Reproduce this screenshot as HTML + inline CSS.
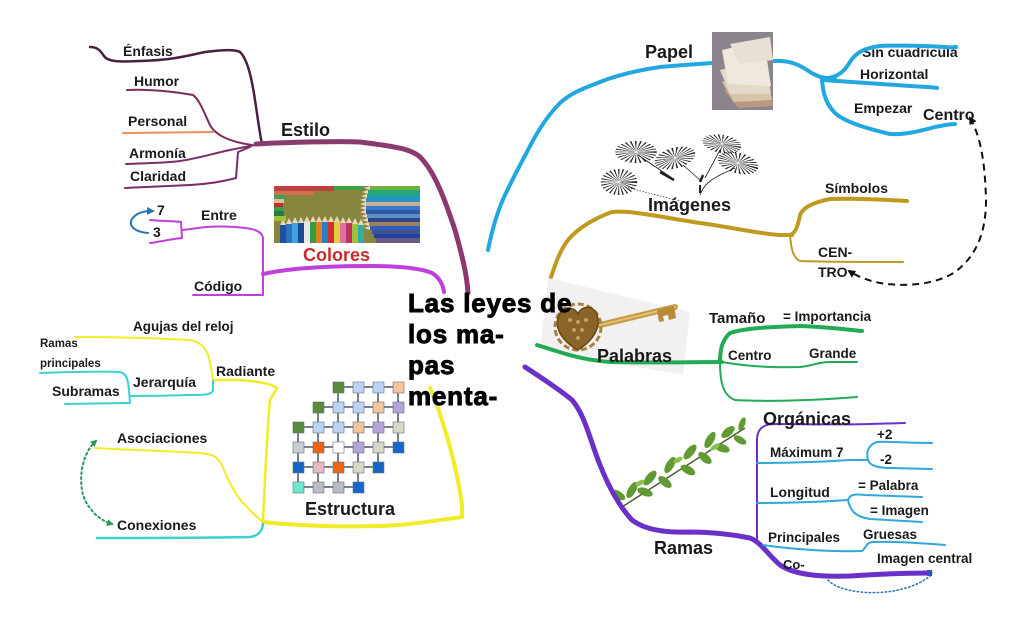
<!DOCTYPE html>
<html><head><meta charset="utf-8"><style>
html,body{margin:0;padding:0;background:#fff;}
svg{display:block;}
text{font-family:"Liberation Sans",Arial,sans-serif;font-weight:bold;fill:#1a1a1a;}
</style></head><body>
<svg width="1024" height="621" viewBox="0 0 1024 621" xmlns="http://www.w3.org/2000/svg">
<defs>
<marker id="ab" markerWidth="8" markerHeight="8" refX="6" refY="4" orient="auto-start-reverse" markerUnits="userSpaceOnUse"><path d="M0,0 L8,4 L0,8 Z" fill="#111"/></marker>
<marker id="ag" markerWidth="7" markerHeight="7" refX="5" refY="3.5" orient="auto-start-reverse" markerUnits="userSpaceOnUse"><path d="M0,0 L7,3.5 L0,7 Z" fill="#2a9a60"/></marker>
<marker id="abl" markerWidth="8" markerHeight="8" refX="5" refY="4" orient="auto" markerUnits="userSpaceOnUse"><path d="M0,0 L8,4 L0,8 Z" fill="#2a78b0"/></marker>
</defs>
<rect width="1024" height="621" fill="#fff"/>

<!-- ===== ESTILO ===== -->
<g fill="none" stroke-linecap="round" stroke-linejoin="round">
<path d="M90,47 C97,47 100,50 104,56 C108,62 120,62 140,61 C175,60 190,55 205,52 C220,50 235,49 240,52 C248,60 252,80 255,100 C258,120 260,135 262,144" stroke="#4a2040" stroke-width="2.5"/>
<path d="M127,90 C150,89 175,92 193,95 C200,100 205,115 210,125 C215,135 230,142 252,145" stroke="#7a2e60" stroke-width="2"/>
<path d="M123,133 L213,132" stroke="#e89060" stroke-width="2"/>
<path d="M126,164 C150,163 165,163 180,161 C200,158 215,153 230,150 C245,147 255,145 262,144" stroke="#7a2e68" stroke-width="2"/>
<path d="M125,188 C150,187 170,186 190,185 C210,184 225,181 236,178 L238,152 L250,147" stroke="#7a2e68" stroke-width="2"/>
<path d="M256,144 C290,142 340,141 360,142 C390,146 410,148 420,157 C435,172 445,200 455,230 C462,255 467,275 468,293" stroke="#8b3a6e" stroke-width="5"/>
</g>
<text x="123" y="56" font-size="14">Énfasis</text>
<text x="134" y="86" font-size="14">Humor</text>
<text x="128" y="126" font-size="14">Personal</text>
<text x="129" y="158" font-size="14">Armonía</text>
<text x="130" y="181" font-size="14">Claridad</text>
<text x="281" y="136" font-size="18">Estilo</text>

<!-- ===== COLORES ===== -->
<g fill="none" stroke-linecap="round" stroke-linejoin="round">
<path d="M263,274 C290,268 330,266 370,266 C400,266 420,268 432,273 C440,278 443,285 444,292" stroke="#c040dc" stroke-width="4"/>
<path d="M193,295 L263,295 L263,238 C262,232 255,229 245,228 C230,226 210,226 198,228 L183,230" stroke="#c040dc" stroke-width="2"/>
<path d="M150,220 C160,221 175,221 181,222 L182,238 C170,239 160,242 150,243" stroke="#c040dc" stroke-width="2"/>
<path d="M148,233 C135,232 128,226 132,219 C136,213 143,211 152,211" stroke="#2a78b0" stroke-width="2" marker-end="url(#abl)"/>
</g>
<text x="157" y="215" font-size="14">7</text>
<text x="153" y="237" font-size="14">3</text>
<text x="201" y="220" font-size="14">Entre</text>
<text x="194" y="291" font-size="14">Código</text>
<!-- pencils image -->
<g>
<rect x="274" y="186" width="146" height="57" fill="#86863e"/>
<g>
<rect x="370" y="186" width="50" height="4" fill="#70b040"/>
<rect x="368" y="190" width="52" height="4" fill="#2aa870"/>
<rect x="367" y="194" width="53" height="4" fill="#20a0a0"/>
<rect x="366" y="198" width="54" height="4" fill="#2890c8"/>
<rect x="366" y="202" width="54" height="4" fill="#c8b090"/>
<rect x="366" y="206" width="54" height="4" fill="#3a78c8"/>
<rect x="366" y="210" width="54" height="4" fill="#2a5aa8"/>
<rect x="367" y="214" width="53" height="4" fill="#6090c0"/>
<rect x="368" y="218" width="52" height="4" fill="#2a4a8a"/>
<rect x="369" y="222" width="51" height="4" fill="#a08060"/>
<rect x="370" y="226" width="50" height="4" fill="#3060b0"/>
<rect x="372" y="230" width="48" height="4" fill="#405090"/>
<rect x="374" y="234" width="46" height="4" fill="#2040a0"/>
<rect x="376" y="238" width="44" height="5" fill="#6a5a80"/>
<path d="M370,186 l-6,2 6,2 z M368,190 l-6,2 6,2z M367,194 l-6,2 6,2z M366,198 l-6,2 6,2z M366,202 l-6,2 6,2z M366,206 l-6,2 6,2z M366,210 l-6,2 6,2z M367,214 l-6,2 6,2z M368,218 l-6,2 6,2z M369,222 l-6,2 6,2z M370,226 l-6,2 6,2z" fill="#e8d8b8"/>
</g>
<g>
<rect x="280" y="225" width="6" height="18" fill="#2050a0"/>
<rect x="286" y="224" width="6" height="19" fill="#3070c0"/>
<rect x="292" y="223" width="6" height="20" fill="#40a0e0"/>
<rect x="298" y="223" width="6" height="20" fill="#1a4a90"/>
<rect x="304" y="222" width="6" height="21" fill="#e8e8e8"/>
<rect x="310" y="222" width="6" height="21" fill="#30a040"/>
<rect x="316" y="222" width="6" height="21" fill="#e08020"/>
<rect x="322" y="222" width="6" height="21" fill="#2a80c8"/>
<rect x="328" y="222" width="6" height="21" fill="#d03030"/>
<rect x="334" y="222" width="6" height="21" fill="#e0d040"/>
<rect x="340" y="223" width="6" height="20" fill="#e070a0"/>
<rect x="346" y="223" width="6" height="20" fill="#c03060"/>
<rect x="352" y="224" width="6" height="19" fill="#a0c040"/>
<rect x="358" y="225" width="6" height="18" fill="#30b0a0"/>
<path d="M280,225 l3,-6 3,6z M286,224 l3,-6 3,6z M292,223 l3,-6 3,6z M298,223 l3,-6 3,6z M304,222 l3,-6 3,6z M310,222 l3,-6 3,6z M316,222 l3,-6 3,6z M322,222 l3,-6 3,6z M328,222 l3,-6 3,6z M334,222 l3,-6 3,6z M340,223 l3,-6 3,6z M346,223 l3,-6 3,6z M352,224 l3,-6 3,6z M358,225 l3,-6 3,6z" fill="#e8d8b8"/>
</g>
<g>
<rect x="274" y="186" width="60" height="5" fill="#c04040"/>
<rect x="274" y="191" width="40" height="4" fill="#d07050"/>
<rect x="274" y="195" width="12" height="4" fill="#40a050"/>
<rect x="274" y="199" width="10" height="4" fill="#e0c090"/>
<rect x="274" y="203" width="9" height="4" fill="#c03030"/>
<rect x="274" y="207" width="9" height="4" fill="#30a040"/>
<rect x="274" y="211" width="10" height="5" fill="#2a7a40"/>
<rect x="274" y="216" width="12" height="5" fill="#a0c040"/>
<rect x="334" y="186" width="30" height="4" fill="#40a040"/>
</g>
</g>
<text x="303" y="261" font-size="18" style="fill:#cc2a2a">Colores</text>

<!-- ===== ESTRUCTURA ===== -->
<g fill="none" stroke-linecap="round" stroke-linejoin="round">
<path d="M430,388 C436,400 442,420 448,440 C455,465 460,490 462,505 L462,517 C440,520 420,523 400,525 C370,527 340,527 300,525 C285,524 270,523 263,522" stroke="#f0ec28" stroke-width="4"/>
<path d="M263,522 C265,480 267,430 270,400 L277,388 C268,382 250,381 240,380 L213,380" stroke="#f0ec28" stroke-width="2.5"/>
<path d="M75,337 C110,337 150,338 190,340 C200,342 205,347 208,355 C211,365 212,373 213,380" stroke="#f0ec28" stroke-width="2"/>
<path d="M95,448 C130,450 170,451 200,453 C215,454 218,458 222,465 C228,480 235,495 245,505 C252,513 258,518 263,522" stroke="#f0ec28" stroke-width="2"/>
<path d="M97,538 C150,538 200,538 250,537 C258,536 262,532 263,524" stroke="#3cd0d0" stroke-width="2.5"/>
<path d="M213,381 L213,390 C212,395 205,395 190,395 C160,396 140,396 130,396" stroke="#3cd0d0" stroke-width="2"/>
<path d="M40,373 C70,372 100,371 120,372 C127,374 128,380 129,390 L130,403 L65,404" stroke="#3cd0d0" stroke-width="2"/>
<path d="M96,441 C80,455 78,485 85,500 C92,514 102,521 112,524" stroke="#2a9a60" stroke-width="2" stroke-dasharray="2 3" marker-start="url(#ag)" marker-end="url(#ag)"/>
</g>
<text x="133" y="331" font-size="13.5">Agujas del reloj</text>
<text x="40" y="347" font-size="11.5">Ramas</text>
<text x="40" y="367" font-size="11.5">principales</text>
<text x="216" y="376" font-size="14">Radiante</text>
<text x="133" y="387" font-size="14">Jerarquía</text>
<text x="52" y="396" font-size="14">Subramas</text>
<text x="117" y="443" font-size="14">Asociaciones</text>
<text x="117" y="530" font-size="14">Conexiones</text>
<text x="305" y="515" font-size="18">Estructura</text>
<!-- cube grid -->
<g stroke="#7a8090" stroke-width="2">
<path d="M343,387H353M363,387H373M383,387H393"/>
<path d="M323,407H333M343,407H353M363,407H373M383,407H393"/>
<path d="M303,427H313M323,427H333M343,427H353M363,427H373M383,427H393"/>
<path d="M303,447H313M323,447H333M343,447H353M363,447H373M383,447H393"/>
<path d="M303,467H313M323,467H333M343,467H353M363,467H373"/>
<path d="M303,487H313M323,487H333M343,487H353"/>
<path d="M338,392V402M358,392V402M378,392V402M398,392V402"/>
<path d="M318,412V422M338,412V422M358,412V422M378,412V422M398,412V422"/>
<path d="M298,432V442M318,432V442M338,432V442M358,432V442M378,432V442M398,432V442"/>
<path d="M298,452V462M318,452V462M338,452V462M358,452V462M378,452V462"/>
<path d="M298,472V482M318,472V482M338,472V482M358,472V482"/>
</g>
<g stroke="#6a7080" stroke-width="0.6">
<rect x="333" y="382" width="11" height="11" fill="#5a8a3a"/><rect x="353" y="382" width="11" height="11" fill="#bcd4f4"/><rect x="373" y="382" width="11" height="11" fill="#bcd4f4"/><rect x="393" y="382" width="11" height="11" fill="#f4c49a"/>
<rect x="313" y="402" width="11" height="11" fill="#5a8a3a"/><rect x="333" y="402" width="11" height="11" fill="#bcd4f4"/><rect x="353" y="402" width="11" height="11" fill="#bcd4f4"/><rect x="373" y="402" width="11" height="11" fill="#f4c49a"/><rect x="393" y="402" width="11" height="11" fill="#b4a4d8"/>
<rect x="293" y="422" width="11" height="11" fill="#5a8a3a"/><rect x="313" y="422" width="11" height="11" fill="#bcd4f4"/><rect x="333" y="422" width="11" height="11" fill="#bcd4f4"/><rect x="353" y="422" width="11" height="11" fill="#f4c49a"/><rect x="373" y="422" width="11" height="11" fill="#b4a4d8"/><rect x="393" y="422" width="11" height="11" fill="#d8d8c8"/>
<rect x="293" y="442" width="11" height="11" fill="#c8ccd4"/><rect x="313" y="442" width="11" height="11" fill="#ec6414"/><rect x="333" y="442" width="11" height="11" fill="#ffffff"/><rect x="353" y="442" width="11" height="11" fill="#b4a4d8"/><rect x="373" y="442" width="11" height="11" fill="#d8d8c8"/><rect x="393" y="442" width="11" height="11" fill="#1466c8"/>
<rect x="293" y="462" width="11" height="11" fill="#1466c8"/><rect x="313" y="462" width="11" height="11" fill="#e8b8c4"/><rect x="333" y="462" width="11" height="11" fill="#ec6414"/><rect x="353" y="462" width="11" height="11" fill="#d8d8c8"/><rect x="373" y="462" width="11" height="11" fill="#1466c8"/>
<rect x="293" y="482" width="11" height="11" fill="#6ce8cc"/><rect x="313" y="482" width="11" height="11" fill="#b8bcc4"/><rect x="333" y="482" width="11" height="11" fill="#b8bcc4"/><rect x="353" y="482" width="11" height="11" fill="#1466c8"/>
</g>

<!-- ===== PAPEL ===== -->
<g fill="none" stroke-linecap="round" stroke-linejoin="round" stroke="#22a8e0">
<path d="M488,250 C492,230 498,210 505,195 C512,180 520,165 528,150 C538,130 548,115 560,103 C572,92 585,88 600,82 C620,74 640,70 660,67 C680,65 700,64 713,63" stroke-width="4"/>
<path d="M773,61 C790,60 800,65 810,72 C818,77 825,79 835,78" stroke-width="4"/>
<path d="M823,80 C850,82 880,84 910,86 C925,87 932,87 937,88" stroke-width="4"/>
<path d="M822,80 C823,95 827,105 835,113 C845,122 865,128 890,134 C905,135 920,131 935,127 C945,125 950,124 955,124" stroke-width="4"/>
</g>
<text x="645" y="58" font-size="18">Papel</text>
<text x="862" y="57" font-size="14">Sin cuadricula</text>
<path d="M828,78 C840,76 845,70 850,62 C856,52 865,48 880,46 C900,45 930,46 945,47 C950,48 953,47 956,47" fill="none" stroke="#22a8e0" stroke-width="4" stroke-linecap="round"/>
<text x="860" y="79" font-size="14">Horizontal</text>
<text x="854" y="113" font-size="14">Empezar</text>
<text x="923" y="120" font-size="16">Centro</text>
<!-- paper image -->
<g>
<rect x="712" y="32" width="61" height="78" fill="#8c848c"/>
<polygon points="724,90 768,78 773,106 738,108" fill="#b89a80"/>
<polygon points="722,82 766,70 772,100 734,102" fill="#d8c4a8"/>
<polygon points="720,70 766,58 771,94 730,94" fill="#e4d8c8"/>
<polygon points="722,50 764,40 771,86 728,84" fill="#eee8de"/>
<polygon points="730,44 770,37 773,60 740,64" fill="#e6e0d6"/>
</g>

<!-- ===== IMAGENES ===== -->
<g fill="none" stroke-linecap="round" stroke-linejoin="round" stroke="#c09a20">
<path d="M550,280 C555,265 560,250 568,240 C578,228 595,218 612,212 C630,210 660,217 700,223 C730,227 760,234 780,235 L792,235" stroke-width="4"/>
<path d="M790,235 C796,233 798,225 800,215 C803,207 815,202 830,199 C860,198 890,200 907,201" stroke-width="4"/>
<path d="M790,235 C791,248 793,258 800,261 C830,262 870,262 903,262" stroke-width="2"/>
</g>
<path d="M970,118 C980,135 985,160 986,200 C986,230 978,255 955,272 C935,285 905,287 880,283 C865,280 855,275 849,271" fill="none" stroke="#111" stroke-width="2" stroke-dasharray="7 5" marker-start="url(#ab)" marker-end="url(#ab)"/>
<!-- dandelions -->
<g fill="none" stroke="#222">
<circle cx="0" cy="0" r="7" stroke-width="12" stroke-dasharray="0.6 1.2" transform="translate(636,152) scale(1.6,0.85)"/>
<circle cx="0" cy="0" r="7" stroke-width="12" stroke-dasharray="0.6 1.2" transform="translate(675,158) rotate(-15) scale(1.6,0.8)"/>
<circle cx="0" cy="0" r="7" stroke-width="12" stroke-dasharray="0.6 1.2" transform="translate(722,144) rotate(10) scale(1.5,0.7)"/>
<circle cx="0" cy="0" r="7" stroke-width="12" stroke-dasharray="0.6 1.2" transform="translate(738,163) rotate(15) scale(1.6,0.8)"/>
<circle cx="0" cy="0" r="7" stroke-width="12" stroke-dasharray="0.6 1.2" transform="translate(619,182) scale(1.4,1.0)"/>
<path d="M638,155 L672,178" stroke-width="1"/>
<path d="M660,172 L674,180" stroke-width="2.5"/>
<path d="M683,165 L700,180" stroke-width="0.8"/>
<path d="M735,168 C720,175 705,180 700,195" stroke-width="0.8"/>
<path d="M720,150 L705,178" stroke-width="0.8"/>
<path d="M703,175 L700,182" stroke-width="2.5"/>
<path d="M700,185 L700,193" stroke-width="2"/>
<path d="M625,187 L680,201" stroke-width="0.7" stroke-dasharray="1.5 1.5"/>
</g>
<text x="825" y="193" font-size="14">Símbolos</text>
<text x="648" y="211" font-size="18">Imágenes</text>
<text x="818" y="257" font-size="14">CEN-</text>
<text x="818" y="277" font-size="14">TRO</text>

<!-- ===== PALABRAS ===== -->
<polygon points="548,278 690,312 683,375 540,350" fill="#f1f1f1"/>
<g>
<path d="M600,325 L675,307" stroke="#c49a48" stroke-width="6" stroke-linecap="round"/>
<path d="M600,325 L675,307" stroke="#e4c070" stroke-width="2" stroke-linecap="round"/>
<path d="M657,310 L659,322 L664,321 L663,316 L668,315 L669,320 L676,318 L674,306 Z" fill="#b88a3a"/>
<circle cx="578" cy="327" r="23" fill="none" stroke="#a88040" stroke-width="3" stroke-dasharray="6 3"/>
<path d="M578,350 C560,340 554,326 559,315 C564,305 575,307 578,314 C581,306 593,304 597,315 C601,327 594,340 578,350 Z" fill="#8a6428" stroke="#6a4a18" stroke-width="1.5"/>
<g fill="#c8a060"><circle cx="570" cy="320" r="2"/><circle cx="578" cy="322" r="2"/><circle cx="586" cy="320" r="2"/><circle cx="574" cy="330" r="2"/><circle cx="582" cy="330" r="2"/><circle cx="578" cy="338" r="2"/></g>
</g>
<g fill="none" stroke-linecap="round" stroke-linejoin="round" stroke="#22aa55">
<path d="M537,345 C560,352 580,360 610,362 C650,363 690,362 722,362" stroke-width="4"/>
<path d="M720,362 C720,350 722,340 730,333 C745,328 770,327 800,326 C830,327 850,330 862,331" stroke-width="4"/>
<path d="M722,362 C745,366 770,368 800,367 C812,366 818,362 830,362 L857,362" stroke-width="2"/>
<path d="M720,362 C720,380 722,395 735,400 C770,402 820,400 857,397" stroke-width="2"/>
</g>
<text x="597" y="362" font-size="18">Palabras</text>
<text x="709" y="323" font-size="15">Tamaño</text>
<text x="783" y="321" font-size="13.5">= Importancia</text>
<text x="728" y="360" font-size="13.5">Centro</text>
<text x="809" y="358" font-size="13.5">Grande</text>

<!-- ===== RAMAS ===== -->
<g>
<path d="M622,507 L745,428" stroke="#4a5a30" stroke-width="1.5"/>
<g fill="#5f9a32">
<ellipse cx="632" cy="490" rx="9" ry="4" transform="rotate(-60 632 490)"/>
<ellipse cx="618" cy="495" rx="8" ry="4" transform="rotate(30 618 495)"/>
<ellipse cx="645" cy="492" rx="8" ry="4" transform="rotate(20 645 492)"/>
<ellipse cx="650" cy="478" rx="9" ry="4" transform="rotate(-50 650 478)"/>
<ellipse cx="665" cy="482" rx="8" ry="4" transform="rotate(40 665 482)"/>
<ellipse cx="670" cy="465" rx="9" ry="4" transform="rotate(-60 670 465)"/>
<ellipse cx="688" cy="470" rx="8" ry="4" transform="rotate(30 688 470)"/>
<ellipse cx="690" cy="452" rx="9" ry="4" transform="rotate(-50 690 452)"/>
<ellipse cx="705" cy="458" rx="8" ry="4" transform="rotate(40 705 458)"/>
<ellipse cx="710" cy="440" rx="9" ry="4" transform="rotate(-60 710 440)"/>
<ellipse cx="722" cy="448" rx="8" ry="4" transform="rotate(20 722 448)"/>
<ellipse cx="728" cy="432" rx="8" ry="4" transform="rotate(-40 728 432)"/>
<ellipse cx="740" cy="440" rx="7" ry="3.5" transform="rotate(30 740 440)"/>
<ellipse cx="742" cy="424" rx="7" ry="3" transform="rotate(-70 742 424)"/>
</g>
<g fill="#8ac050">
<ellipse cx="640" cy="483" rx="5" ry="2.5" transform="rotate(-30 640 483)"/>
<ellipse cx="678" cy="460" rx="5" ry="2.5" transform="rotate(-30 678 460)"/>
<ellipse cx="715" cy="447" rx="5" ry="2.5" transform="rotate(-30 715 447)"/>
</g>
</g>
<g fill="none" stroke-linecap="round" stroke-linejoin="round">
<path d="M525,367 C545,380 560,390 572,400 C585,415 590,440 600,465 C608,485 618,505 632,520 C645,530 665,533 690,532 C715,532 735,535 750,538 C762,543 768,555 780,565 C795,575 820,577 850,576 C880,574 905,573 930,573" stroke="#6a30c8" stroke-width="5"/>
<path d="M757,540 L757,440 C757,430 762,425 772,424 C800,424 840,425 870,424 L905,423" stroke="#6a30c8" stroke-width="2"/>
<g stroke="#30a8d8" stroke-width="2">
<path d="M757,463 C780,463 820,462 850,460 L868,460"/>
<path d="M868,460 C866,452 868,445 877,442 C890,441 900,443 932,443"/>
<path d="M868,460 C870,466 878,468 890,468 L932,469"/>
<path d="M757,503 C790,503 820,502 848,500"/>
<path d="M848,500 C850,494 855,494 865,495 L922,497"/>
<path d="M848,500 C850,510 855,517 870,519 L922,522"/>
<path d="M763,545 C790,549 830,552 862,551 C866,548 866,543 872,542 C900,541 930,544 945,545"/>
</g>
<path d="M828,580 C840,595 900,600 930,576" stroke="#3070b0" stroke-width="1.5" stroke-dasharray="1.5 2.5"/>
</g>
<rect x="927" y="570" width="5" height="6" fill="#3050c0"/>
<text x="763" y="425" font-size="18">Orgánicas</text>
<text x="770" y="457" font-size="13.5">Máximum 7</text>
<text x="877" y="439" font-size="13.5">+2</text>
<text x="880" y="464" font-size="13.5">-2</text>
<text x="770" y="497" font-size="14">Longitud</text>
<text x="858" y="490" font-size="13.5">= Palabra</text>
<text x="870" y="515" font-size="13.5">= Imagen</text>
<text x="768" y="542" font-size="13.5">Principales</text>
<text x="863" y="539" font-size="13.5">Gruesas</text>
<text x="877" y="563" font-size="13.5">Imagen central</text>
<text x="783" y="569" font-size="13">Co-</text>
<text x="654" y="554" font-size="18">Ramas</text>

<!-- ===== CENTER (on top) ===== -->
<g style="letter-spacing:0.8px;fill:#000;stroke:#000;stroke-width:0.9">
<text x="408" y="312" font-size="26" style="fill:#000">Las leyes de</text>
<text x="408" y="343" font-size="26" style="fill:#000">los ma-</text>
<text x="408" y="374" font-size="26" style="fill:#000">pas</text>
<text x="408" y="405" font-size="26" style="fill:#000">menta-</text>
</g>
</svg>
</body></html>
